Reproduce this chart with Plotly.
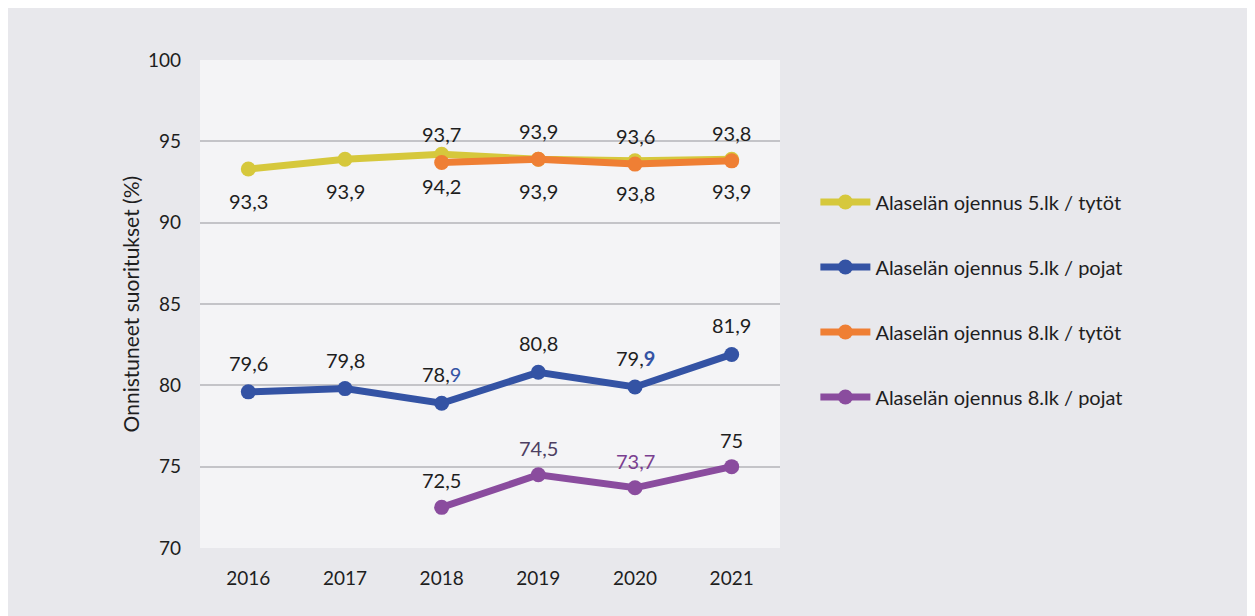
import plotly.graph_objects as go

years = ["2016", "2017", "2018", "2019", "2020", "2021"]

girls5 = [93.3, 93.9, 94.2, 93.9, 93.8, 93.9]
boys5 = [79.6, 79.8, 78.9, 80.8, 79.9, 81.9]
girls8 = [None, None, 93.7, 93.9, 93.6, 93.8]
boys8 = [None, None, 72.5, 74.5, 73.7, 75.0]

names = [
    "Alaselän ojennus 5.lk / tytöt",
    "Alaselän ojennus 5.lk / pojat",
    "Alaselän ojennus 8.lk / tytöt",
    "Alaselän ojennus 8.lk / pojat",
]
colors = ["#d6c83c", "#3453a4", "#ef7f34", "#8a4c9e"]
series = [girls5, boys5, girls8, boys8]
label_shift = [-32, 29, 28, 27]  # px offset of value labels (negative = below)

FONT = "Lato"

fig = go.Figure()
for i, (nm, col, vals) in enumerate(zip(names, colors, series)):
    fig.add_trace(go.Scatter(
        x=years, y=vals, name=nm, mode="lines+markers",
        line=dict(color=col, width=7),
        marker=dict(color=col, size=15),
        legendgroup=nm,
        connectgaps=False,
    ))

def fmt(v):
    s = ("%.1f" % v).replace(".", ",")
    if s.endswith(",0"):
        s = s[:-2]
    return s

special = {
    (1, "2018"): "78,<span style='color:#3453a4'>9</span>",
    (1, "2020"): "79,<b><span style='color:#3453a4'>9</span></b>",
    (3, "2019"): "<span style='color:#4d3f62'>74,5</span>",
    (3, "2020"): "<span style='color:#7a3f90'>73,7</span>",
}

annotations = []
for i, vals in enumerate(series):
    for j, (yr, v) in enumerate(zip(years, vals)):
        if v is None:
            continue
        txt = special.get((i, yr), fmt(v))
        annotations.append(dict(
            x=j, y=v, xref="x", yref="y", text=txt, showarrow=False,
            yshift=label_shift[i], font=dict(family=FONT, size=20, color="#1e1e1e"),
        ))

annotations.append(dict(
    text="Onnistuneet suoritukset (%)", xref="paper", yref="paper",
    x=-0.12, y=0.5, xanchor="center", yanchor="middle", textangle=-90, showarrow=False,
    font=dict(family=FONT, size=21, color="#1e1e1e"),
))

fig.update_layout(
    width=1247, height=608,
    margin=dict(l=192, r=475, t=52, b=68),
    paper_bgcolor="#e8e8ec",
    plot_bgcolor="#f4f4f6",
    font=dict(family=FONT, size=19, color="#1e1e1e"),
    showlegend=True,
    legend=dict(
        x=1.061, y=0.749, xanchor="left", yanchor="top",
        font=dict(family=FONT, size=20, color="#1e1e1e"),
        bgcolor="rgba(0,0,0,0)", tracegroupgap=36, itemwidth=50,
    ),
    annotations=annotations,
)
fig.update_xaxes(
    type="category", range=[-0.5, 5.5], showgrid=False, zeroline=False,
    showline=False, ticks="", ticklabelstandoff=17,
    tickfont=dict(family=FONT, size=19, color="#1e1e1e"),
)
fig.update_yaxes(
    range=[70, 100], dtick=5, showgrid=True, gridcolor="#c4c4c8", gridwidth=1.5,
    zeroline=False, showline=False, ticks="", ticklabelstandoff=18,
    tickfont=dict(family=FONT, size=19, color="#1e1e1e"),
)

fig.write_html("out.html")
